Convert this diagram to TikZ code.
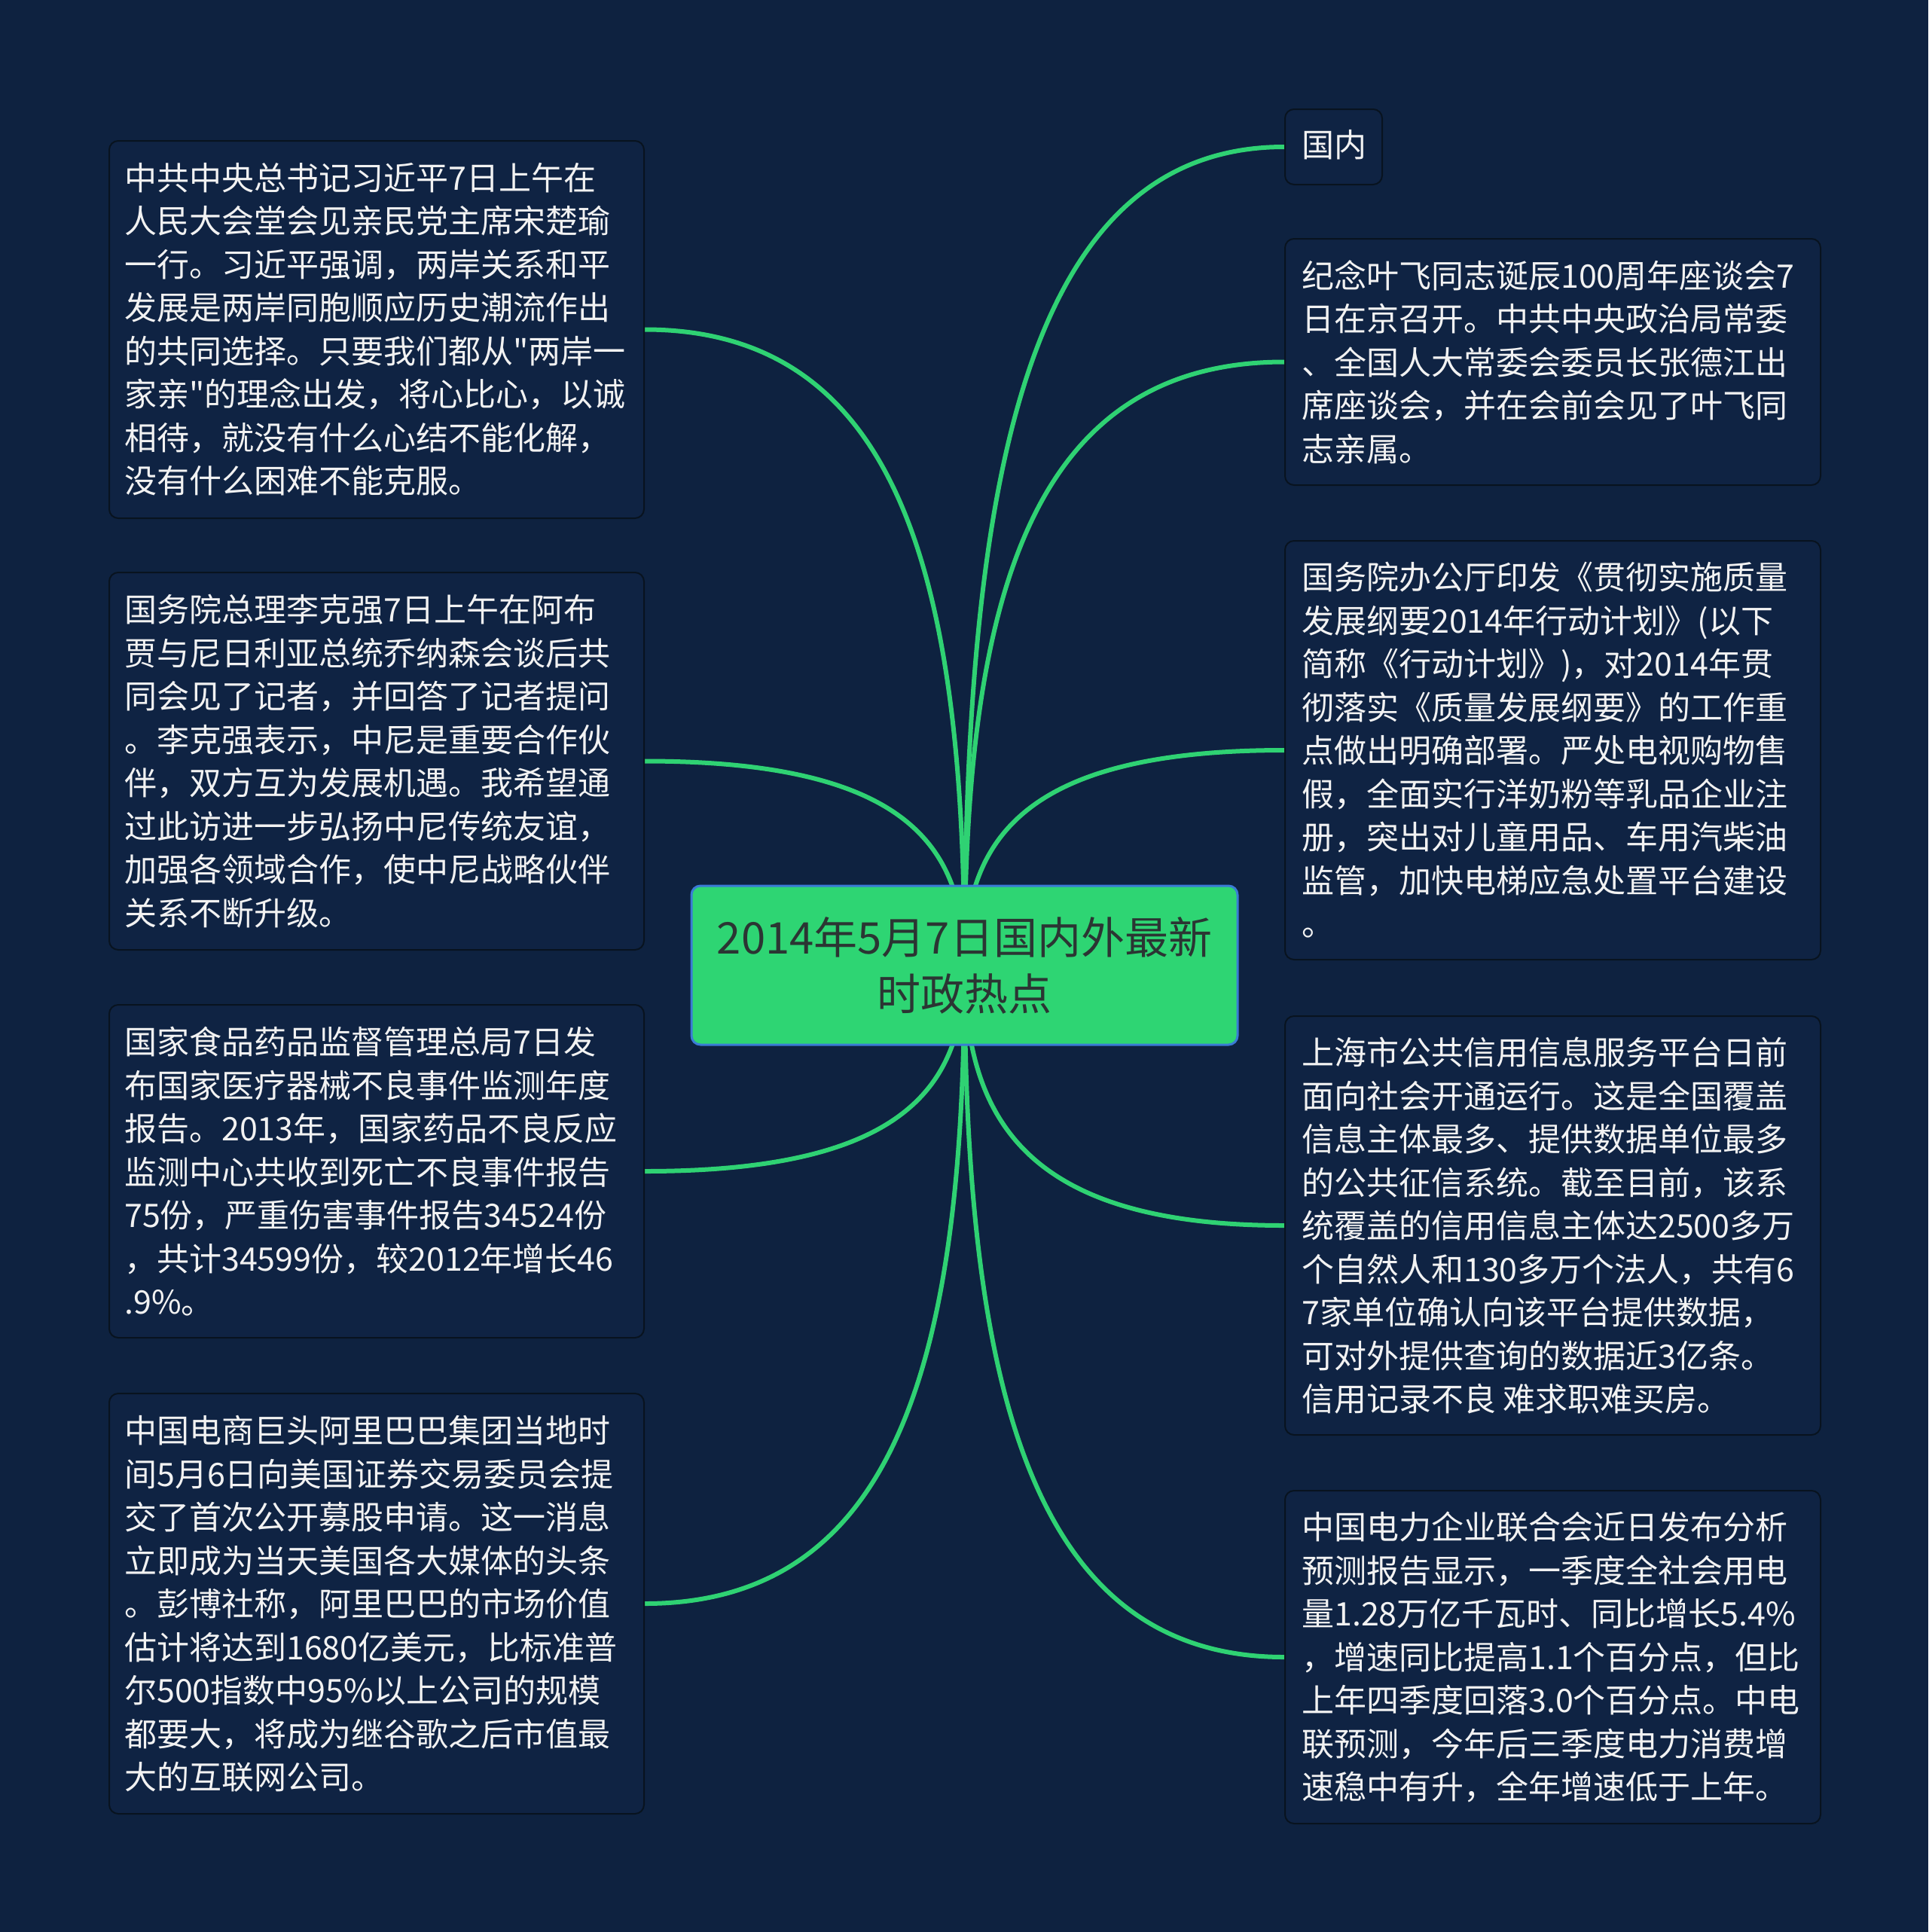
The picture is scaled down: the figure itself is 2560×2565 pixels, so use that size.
\documentclass[tikz,border=0pt]{standalone}
\usepackage{fontspec}
\setmainfont{Noto Sans CJK SC}
\newcommand\plainquote{\XeTeXglyph\the\XeTeXcharglyph34\relax}
\definecolor{bgc}{HTML}{0E2240}
\definecolor{boxfill}{HTML}{0F2343}
\definecolor{boxline}{HTML}{08131F}
\definecolor{linkc}{HTML}{2FD273}
\definecolor{rootfill}{HTML}{2ED573}
\definecolor{rootline}{HTML}{3A7BD5}
\definecolor{roottext}{HTML}{2B3533}
\definecolor{txtc}{HTML}{F2F2F2}
\pgfdeclarelayer{bglayer}
\pgfdeclarelayer{linklayer}
\pgfsetlayers{bglayer,linklayer,main}
\tikzset{
  card/.style={draw=boxline, line width=2pt, fill=boxfill, rounded corners=12pt, inner sep=0pt, anchor=north west},
  cardtext/.style={text=txtc, align=left, anchor=north west, inner sep=0pt, font=\fontsize{43}{57.5}\selectfont},
  rootbox/.style={draw=rootline, line width=3pt, fill=rootfill, rounded corners=12pt, inner sep=0pt,
    minimum width=725pt, minimum height=211pt, text=roottext, align=center, font=\fontsize{58}{75}\selectfont},
  link/.style={draw=linkc, line width=6pt}
}
\begin{document}
\begin{tikzpicture}[x=1pt,y=-1pt]
\begin{pgfonlayer}{bglayer}
\fill[bgc] (0,0) rectangle (2560,2565);
\end{pgfonlayer}
\useasboundingbox (0,0) rectangle (2560,2565);

% root
\node[rootbox] (root) at (1280.5,1281.5) {2014年5月7日国内外最新\\时政热点};

% left cards
\node[card, minimum width=710pt, minimum height=501pt] (l1) at (144,186) {};
\node[cardtext] (l1t) at (165,216) {中共中央总书记习近平7日上午在\\人民大会堂会见亲民党主席宋楚瑜\\一行。习近平强调，两岸关系和平\\发展是两岸同胞顺应历史潮流作出\\的共同选择。只要我们都从\plainquote 两岸一\\家亲\plainquote 的理念出发，将心比心，以诚\\相待，就没有什么心结不能化解，\\没有什么困难不能克服。};

\node[card, minimum width=710pt, minimum height=501pt] (l2) at (144,759) {};
\node[cardtext] (l2t) at (165,789) {国务院总理李克强7日上午在阿布\\贾与尼日利亚总统乔纳森会谈后共\\同会见了记者，并回答了记者提问\\。李克强表示，中尼是重要合作伙\\伴，双方互为发展机遇。我希望通\\过此访进一步弘扬中尼传统友谊，\\加强各领域合作，使中尼战略伙伴\\关系不断升级。};

\node[card, minimum width=710pt, minimum height=442pt] (l3) at (144,1333) {};
\node[cardtext] (l3t) at (165,1363) {国家食品药品监督管理总局7日发\\布国家医疗器械不良事件监测年度\\报告。2013年，国家药品不良反应\\监测中心共收到死亡不良事件报告\\75份，严重伤害事件报告34524份\\，共计34599份，较2012年增长46\\.9\%。};

\node[card, minimum width=710pt, minimum height=558pt] (l4) at (144,1849) {};
\node[cardtext] (l4t) at (165,1879) {中国电商巨头阿里巴巴集团当地时\\间5月6日向美国证券交易委员会提\\交了首次公开募股申请。这一消息\\立即成为当天美国各大媒体的头条\\。彭博社称，阿里巴巴的市场价值\\估计将达到1680亿美元，比标准普\\尔500指数中95\%以上公司的规模\\都要大，将成为继谷歌之后市值最\\大的互联网公司。};

% right cards
\node[card, minimum width=129pt, minimum height=100pt] (r0) at (1705,144) {};
\node[cardtext] (r0t) at (1728,172) {国内};

\node[card, minimum width=711pt, minimum height=327pt] (r1) at (1705,316) {};
\node[cardtext] (r1t) at (1728,345) {纪念叶飞同志诞辰100周年座谈会7\\日在京召开。中共中央政治局常委\\、全国人大常委会委员长张德江出\\席座谈会，并在会前会见了叶飞同\\志亲属。};

\node[card, minimum width=711pt, minimum height=556pt] (r2) at (1705,717) {};
\node[cardtext] (r2t) at (1728,746) {国务院办公厅印发《贯彻实施质量\\发展纲要2014年行动计划》(以下\\简称《行动计划》)，对2014年贯\\彻落实《质量发展纲要》的工作重\\点做出明确部署。严处电视购物售\\假，全面实行洋奶粉等乳品企业注\\册，突出对儿童用品、车用汽柴油\\监管，加快电梯应急处置平台建设\\。};

\node[card, minimum width=711pt, minimum height=556pt] (r3) at (1705,1348) {};
\node[cardtext] (r3t) at (1728,1377) {上海市公共信用信息服务平台日前\\面向社会开通运行。这是全国覆盖\\信息主体最多、提供数据单位最多\\的公共征信系统。截至目前，该系\\统覆盖的信用信息主体达2500多万\\个自然人和130多万个法人，共有6\\7家单位确认向该平台提供数据，\\可对外提供查询的数据近3亿条。\\信用记录不良 难求职难买房。};

\node[card, minimum width=711pt, minimum height=442pt] (r4) at (1705,1978) {};
\node[cardtext] (r4t) at (1728,2007) {中国电力企业联合会近日发布分析\\预测报告显示，一季度全社会用电\\量1.28万亿千瓦时、同比增长5.4\%\\，增速同比提高1.1个百分点，但比\\上年四季度回落3.0个百分点。中电\\联预测，今年后三季度电力消费增\\速稳中有升，全年增速低于上年。};

% links
\begin{pgfonlayer}{linklayer}
\path[link] (root.center) .. controls +(0,-652) and +(-340,0) .. (r0.west);
\path[link] (root.center) .. controls +(0,-481) and +(-340,0) .. (r1.west);
\path[link] (root.center) .. controls +(0,-172) and +(-340,0) .. (r2.west);
\path[link] (root.center) .. controls +(0,207) and +(-340,0) .. (r3.west);
\path[link] (root.center) .. controls +(0,551) and +(-340,0) .. (r4.west);
\path[link] (root.center) .. controls +(0,-507) and +(341,0) .. (l1.east);
\path[link] (root.center) .. controls +(0,-163) and +(341,0) .. (l2.east);
\path[link] (root.center) .. controls +(0,164) and +(341,0) .. (l3.east);
\path[link] (root.center) .. controls +(0,508) and +(341,0) .. (l4.east);
\end{pgfonlayer}
\end{tikzpicture}
\end{document}
